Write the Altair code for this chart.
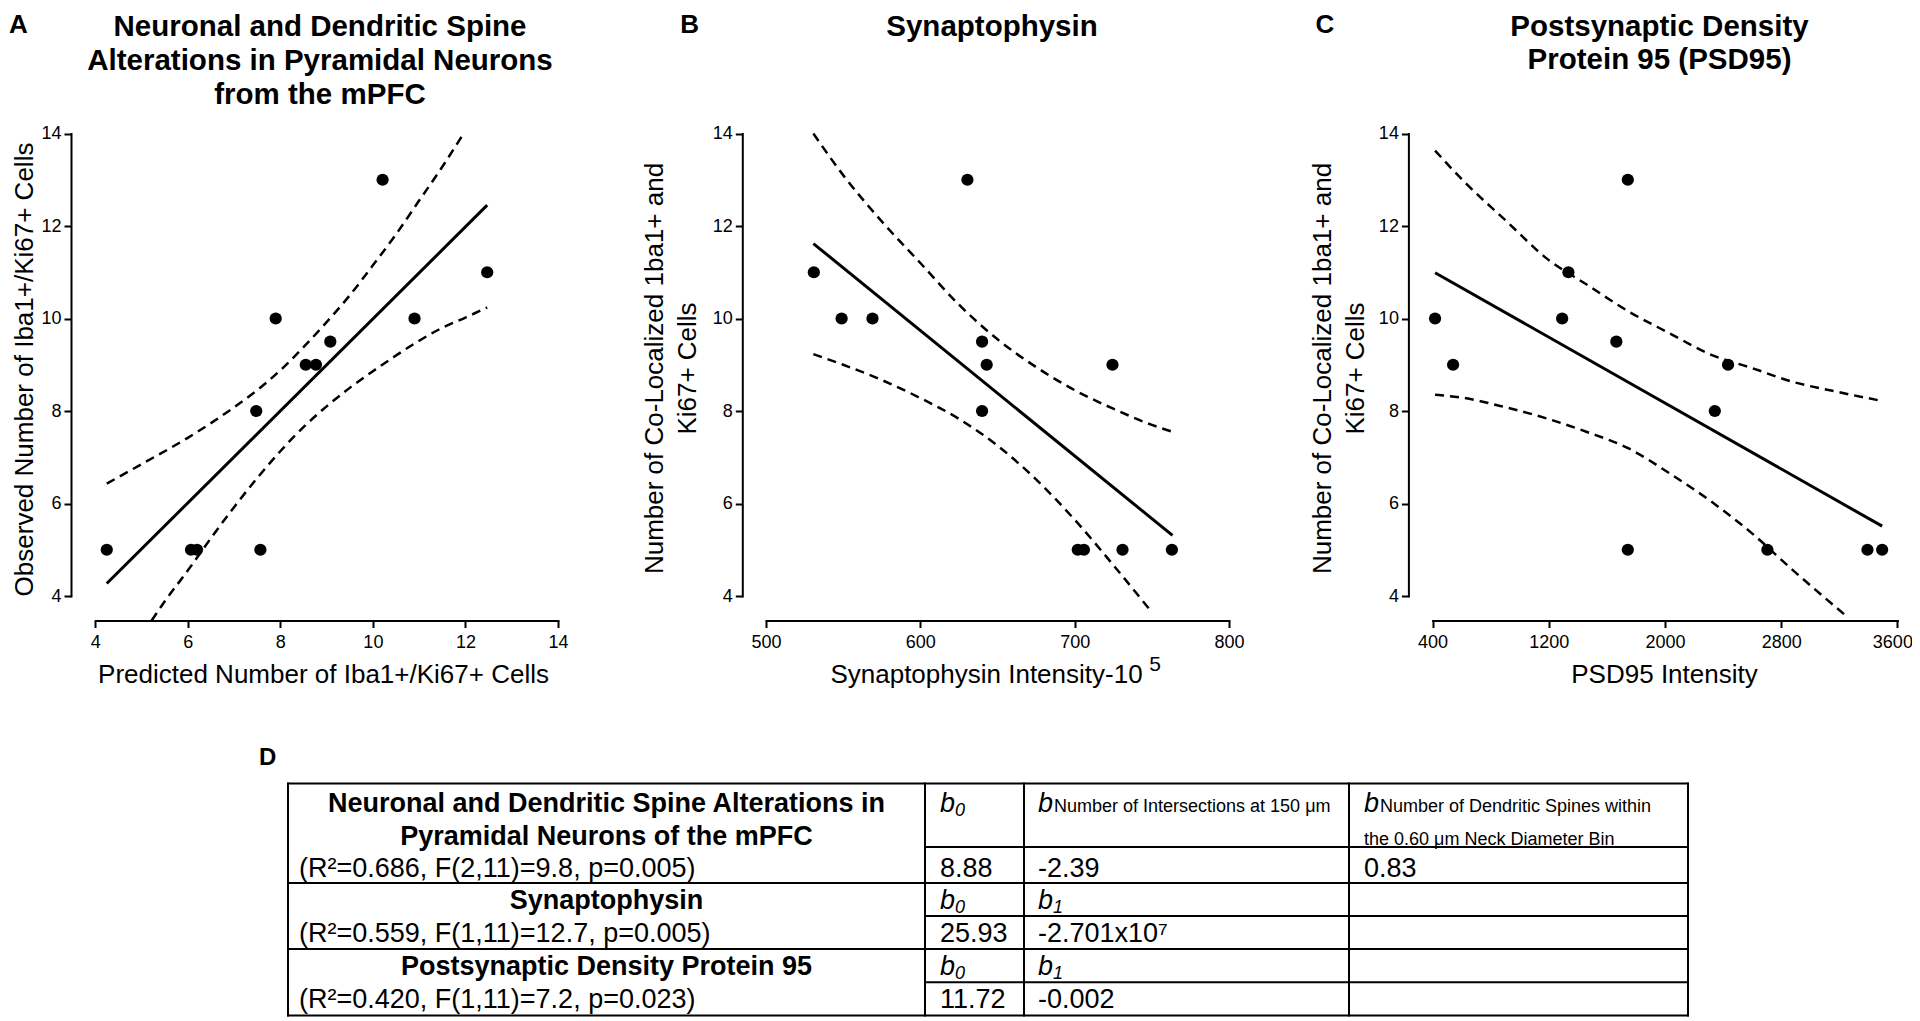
import altair as alt
import pandas as pd

FONT = "Liberation Sans"

# ---------------- Panel A data ----------------
A_pred = [4.25, 6.07, 6.20, 7.57, 7.48, 7.90, 8.55, 8.77, 9.08, 10.21, 10.90, 12.47]
A_obs = [5, 5, 5, 5, 8, 10, 9, 9, 9.5, 13, 10, 11]
A_fit_x = [4.25, 12.47]
A_fit_y = [4.27, 12.45]
A_upper_x = [4.25, 5.0, 6.0, 7.0, 7.5, 8.0, 8.5, 9.0, 9.5, 10.0, 10.5, 11.0, 11.5, 11.96]
A_upper_y = [6.43, 6.85, 7.42, 8.08, 8.45, 8.88, 9.38, 9.92, 10.50, 11.15, 11.82, 12.55, 13.28, 14.0]
A_lower_x = [5.22, 5.5, 6.0, 6.5, 7.0, 7.5, 8.0, 8.5, 9.0, 9.5, 10.0, 10.5, 11.0, 11.5, 12.0, 12.47]
A_lower_y = [3.47, 3.88, 4.55, 5.25, 5.92, 6.55, 7.13, 7.65, 8.10, 8.50, 8.86, 9.20, 9.52, 9.80, 10.02, 10.24]

# ---------------- Panel B data ----------------
B_int = [531, 549, 569, 630.5, 640, 643, 640, 724.5, 702, 706, 731, 763]
B_cells = [11, 10, 10, 13, 9.5, 9, 8, 9, 5, 5, 5, 5]
B_fit_x = [530.7, 763.4]
B_fit_y = [11.62, 5.31]
B_upper_x = [530.7, 550, 575, 600, 625, 650, 675, 700, 725, 750, 763.4]
B_upper_y = [14.0, 13.1, 12.1, 11.2, 10.3, 9.55, 8.95, 8.45, 8.05, 7.7, 7.55]
B_lower_x = [530.7, 550, 575, 600, 625, 650, 675, 700, 725, 750]
B_lower_y = [9.23, 9.0, 8.67, 8.28, 7.83, 7.25, 6.52, 5.65, 4.67, 3.65]

# ---------------- Panel C data ----------------
C_int = [417, 541, 1335, 1292, 1665, 1744, 1744, 2434, 2343, 2705, 3394, 3495]
C_cells = [10, 9, 11, 10, 9.5, 13, 5, 9, 8, 5, 5, 5]
C_fit_x = [417, 3495]
C_fit_y = [10.99, 5.51]
C_upper_x = [417, 620, 903, 1185, 1468, 1750, 2032, 2315, 2597, 2880, 3162, 3473]
C_upper_y = [13.63, 12.95, 12.12, 11.3, 10.72, 10.15, 9.68, 9.22, 8.93, 8.63, 8.43, 8.23]
C_lower_x = [417, 620, 903, 1185, 1468, 1750, 2032, 2315, 2597, 2880, 3247]
C_lower_y = [8.35, 8.28, 8.08, 7.84, 7.54, 7.19, 6.65, 6.05, 5.36, 4.56, 3.57]

# ---------------- ticks and texts ----------------
Y_TICKS = [4, 6, 8, 10, 12, 14]
A_XTICKS = [4, 6, 8, 10, 12, 14]
B_XTICKS = [500, 600, 700, 800]
C_XTICKS = [400, 1200, 2000, 2800, 3600]

A_XTITLE = "Predicted Number of Iba1+/Ki67+ Cells"
A_YTITLE = "Observed Number of Iba1+/Ki67+  Cells"
B_XTITLE = "Synaptophysin Intensity-10"
B_XTITLE_EXP = "5"
BC_YTITLE = ["Number of Co-Localized 1ba1+ and", "Ki67+  Cells"]
C_XTITLE = "PSD95 Intensity"
TITLE_A = ["Neuronal and  Dendritic  Spine", "Alterations in Pyramidal Neurons", "from the mPFC"]
TITLE_B = ["Synaptophysin"]
TITLE_C = ["Postsynaptic Density", "Protein 95 (PSD95)"]

# table texts
T_titles = ["Neuronal and Dendritic Spine Alterations in", "Pyramidal Neurons of the mPFC",
            "Synaptophysin", "Postsynaptic Density Protein 95"]
T_stats = ["(R\u00b2=0.686, F(2,11)=9.8, p=0.005)",
           "(R\u00b2=0.559, F(1,11)=12.7, p=0.005)",
           "(R\u00b2=0.420, F(1,11)=7.2, p=0.023)"]
T_b0 = ["8.88", "25.93", "11.72"]
T_b1 = ["-2.39", "-2.701x10\u2077", "-0.002"]
T_b2 = ["0.83"]
T_sub1 = "Number of Intersections at 150 \u03bcm"
T_sub2 = ["Number of Dendritic Spines within", "the 0.60 \u03bcm Neck Diameter Bin"]

# ---------------- layout ----------------
W, H = 1904, 1013
Y_RANGE = [588, 125.5]
X_AXIS_Y = 612.5


def panel(px, py, fx, fy, ux, uy, lx, ly, xdom, xticks, xrange, yaxis_x,
          xtitle, ytitle, xtitle_x, ytitle_dx, ytitle_y, flush=False):
    df = pd.concat([
        pd.DataFrame({"x": px, "y": py, "kind": "pt"}),
        pd.DataFrame({"x": fx, "y": fy, "kind": "fit"}),
        pd.DataFrame({"x": ux, "y": uy, "kind": "up"}),
        pd.DataFrame({"x": lx, "y": ly, "kind": "lo"}),
    ], ignore_index=True)
    xs = alt.Scale(domain=xdom, range=xrange, nice=False, zero=False)
    ys = alt.Scale(domain=[4, 14], range=Y_RANGE, nice=False, zero=False)
    xax_kw = dict(orient="bottom", values=xticks, offset=X_AXIS_Y - H, title=xtitle,
                  titleX=xtitle_x, titleY=54, titleAlign="center", titleBaseline="middle",
                  labelPadding=6, format="d")
    if flush:
        xax_kw.update(labelFlush=True, labelFlushOffset=15)
    else:
        xax_kw.update(labelFlush=False)
    xax = alt.Axis(**xax_kw)
    yax = alt.Axis(orient="left", values=Y_TICKS, offset=-yaxis_x, title=ytitle,
                   titleX=ytitle_dx, titleY=ytitle_y, titleAngle=270, titleAlign="center",
                   titleBaseline="middle", titleLineHeight=33, labelPadding=3, format="d")
    enc = dict(x=alt.X("x:Q", scale=xs, axis=xax), y=alt.Y("y:Q", scale=ys, axis=yax))
    base = alt.Chart(df)
    pts = base.transform_filter(alt.datum.kind == "pt").mark_circle(
        size=150, color="black", opacity=1).encode(**enc)
    fit = base.transform_filter(alt.datum.kind == "fit").mark_line(
        color="black", strokeWidth=3).encode(**enc)
    up = base.transform_filter(alt.datum.kind == "up").mark_line(
        color="black", strokeWidth=2.5, strokeDash=[9, 6], interpolate="monotone").encode(**enc)
    lo = base.transform_filter(alt.datum.kind == "lo").mark_line(
        color="black", strokeWidth=2.5, strokeDash=[9, 6], interpolate="monotone").encode(**enc)
    return alt.layer(up, lo, fit, pts)


pA = panel(A_pred, A_obs, A_fit_x, A_fit_y, A_upper_x, A_upper_y, A_lower_x, A_lower_y,
           [4, 14], A_XTICKS, [87.2, 550], 63, A_XTITLE, A_YTITLE, 315, -47, 361)
pB = panel(B_int, B_cells, B_fit_x, B_fit_y, B_upper_x, B_upper_y, B_lower_x, B_lower_y,
           [500, 800], B_XTICKS, [758, 1221], 734.3, B_XTITLE, BC_YTITLE, 978, -88, 360)
pC = panel(C_int, C_cells, C_fit_x, C_fit_y, C_upper_x, C_upper_y, C_lower_x, C_lower_y,
           [400, 3600], C_XTICKS, [1424.6, 1889.4], 1400.4, C_XTITLE, BC_YTITLE, 1656, -86, 360,
           flush=True)

# ---------------- table ----------------
TX = alt.Scale(domain=[0, 1400], range=[280, 1680])
TY = alt.Scale(domain=[0, 232], range=[775.5, 1007.5])
COL = [0, 637, 736, 1061, 1400]
ROW = [0, 63.5, 99.5, 132.5, 165.5, 198.8, 232]
LINE = [28, 61, 93, 125, 158.5, 191, 224.5]

rules = []
for i in (0, 2, 4, 6):
    rules.append({"x": COL[0], "x2": COL[4], "y": ROW[i], "y2": ROW[i]})
for i in (1, 3, 5):
    rules.append({"x": COL[1], "x2": COL[4], "y": ROW[i], "y2": ROW[i]})
for c in COL:
    rules.append({"x": c, "x2": c, "y": ROW[0], "y2": ROW[6]})
rules_df = pd.DataFrame(rules)

cells = []
def cell(t, x, y, kind):
    cells.append({"t": t, "x": x, "y": y, "kind": kind})

cell(T_titles[0], 318.5, LINE[0], "bold")
cell(T_titles[1], 318.5, LINE[1], "bold")
cell(T_titles[2], 318.5, LINE[3], "bold")
cell(T_titles[3], 318.5, LINE[5], "bold")
for s, ln in zip(T_stats, (LINE[2], LINE[4], LINE[6])):
    cell(s, 11, ln, "reg")
for v, ln in zip(T_b0, (LINE[2], LINE[4], LINE[6])):
    cell(v, COL[1] + 15, ln, "reg")
for v, ln in zip(T_b1, (LINE[2], LINE[4], LINE[6])):
    cell(v, COL[2] + 14, ln, "reg")
cell(T_b2[0], COL[3] + 15, LINE[2], "reg")
for ln in (LINE[0], LINE[3], LINE[5]):
    cell("b", COL[1] + 15, ln, "ital")
    cell("0", COL[1] + 30, ln + 4, "isub")
for ln in (LINE[3], LINE[5]):
    cell("b", COL[2] + 14, ln, "ital")
    cell("1", COL[2] + 29, ln + 4, "isub")
cell("b", COL[2] + 14, LINE[0], "ital")
cell("b", COL[3] + 15, LINE[0], "ital")
cell(T_sub1, COL[2] + 30, LINE[0], "small")
cell(T_sub2[0], COL[3] + 31, LINE[0], "small")
cell(T_sub2[1], COL[3] + 15, LINE[1], "small")
cells_df = pd.DataFrame(cells)

tenc = dict(x=alt.X("x:Q", scale=TX, axis=None), y=alt.Y("y:Q", scale=TY, axis=None))
grid = alt.Chart(rules_df).mark_rule(color="black", strokeWidth=2, strokeCap="square").encode(
    x=alt.X("x:Q", scale=TX, axis=None), x2="x2:Q",
    y=alt.Y("y:Q", scale=TY, axis=None), y2="y2:Q")
tbase = alt.Chart(cells_df)
styles = {
    "bold": dict(fontWeight="bold", fontStyle="normal", fontSize=27, align="center"),
    "reg": dict(fontWeight="normal", fontStyle="normal", fontSize=27, align="left"),
    "ital": dict(fontWeight="normal", fontStyle="italic", fontSize=27, align="left"),
    "isub": dict(fontWeight="normal", fontStyle="italic", fontSize=18, align="left"),
    "small": dict(fontWeight="normal", fontStyle="normal", fontSize=18, align="left"),
}
tlayers = [grid]
for k, st in styles.items():
    tlayers.append(
        tbase.transform_filter(alt.datum.kind == k).mark_text(
            font=FONT, color="black", baseline="alphabetic", **st).encode(text="t:N", **tenc))
table = alt.layer(*tlayers)

# ---------------- titles and panel letters ----------------
ONE = pd.DataFrame({"k": [0]})


def txt(lines, x, y, size, weight="bold", lh=None):
    return alt.Chart(ONE).mark_text(
        text=lines, font=FONT, fontSize=size, fontWeight=weight, align="center",
        baseline="middle", lineHeight=lh or size * 1.2, color="black").encode(
        x=alt.value(x), y=alt.value(y))


labels = [
    txt(TITLE_A, 312, 18.5, 29.5, lh=34),
    txt(TITLE_B, 984, 18.5, 29.5),
    txt(TITLE_C, 1651.5, 18.5, 29.5, lh=33),
    txt(["A"], 10.5, 16.5, 26),
    txt(["B"], 681.7, 16.5, 26),
    txt(["C"], 1317, 16.5, 26),
    txt(["D"], 259.6, 750, 24),
    txt([B_XTITLE_EXP], 1147, 657, 21, weight="normal"),
]

chart = alt.layer(pA, pB, pC, table, *labels).resolve_scale(
    x="independent", y="independent").resolve_axis(
    x="independent", y="independent").properties(
    width=W, height=H, padding=0, autosize=alt.AutoSizeParams(type="none")
).configure_view(stroke=None).configure_axis(
    labelFont=FONT, labelFontSize=18, labelColor="black",
    titleFont=FONT, titleFontSize=26, titleFontWeight="normal", titleColor="black",
    domainColor="black", domainWidth=2, tickColor="black", tickWidth=2, tickSize=7,
    grid=False, domainCap="square",
)

chart.save("out.html", embed_options={"renderer": "svg", "actions": False})
